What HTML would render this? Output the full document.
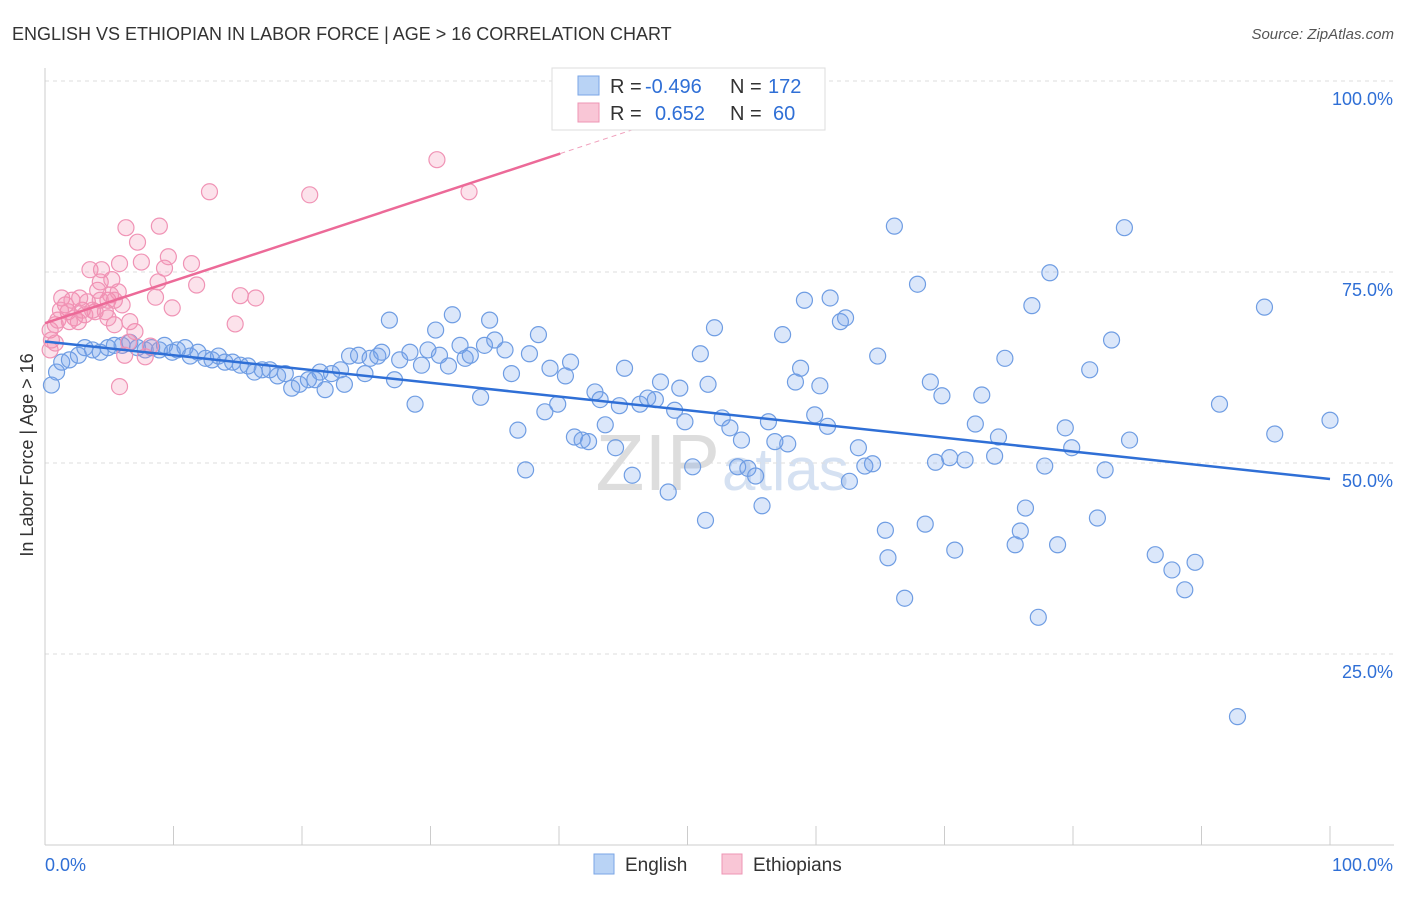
<!DOCTYPE html>
<html><head><meta charset="utf-8"><style>
body{margin:0;background:#fff;font-family:"Liberation Sans",sans-serif;}
svg text{font-family:"Liberation Sans",sans-serif;}
</style></head><body>
<svg id="chart" width="1406" height="892" xmlns="http://www.w3.org/2000/svg">
<text x="12" y="40" font-size="18" fill="#333">ENGLISH VS ETHIOPIAN IN LABOR FORCE | AGE &gt; 16 CORRELATION CHART</text>
<text x="1394" y="39" font-size="15" fill="#555" font-style="italic" text-anchor="end">Source: ZipAtlas.com</text>
<text x="33" y="455" font-size="18" fill="#333" text-anchor="middle" transform="rotate(-90 33 455)">In Labor Force | Age &gt; 16</text>
<text x="720" y="490" font-size="80" fill="#ddd" text-anchor="end" font-family="Liberation Serif">ZIP</text>
<text x="722" y="490" font-size="60" fill="#d5e1f2">atlas</text>
<g id="grid"></g><g id="axes"></g><g id="pts"></g><g id="lines"></g>
<g>
<rect x="552" y="68" width="273" height="62" fill="#fff" stroke="#ddd"/>
<rect x="578" y="76" width="21" height="19" fill="#b9d3f5" stroke="#7aa6e6"/>
<rect x="578" y="103" width="21" height="19" fill="#f9c6d6" stroke="#ee95b4"/>
<text x="610" y="93" font-size="20" fill="#333">R = </text><text x="645" y="93" font-size="20" fill="#2f6fd6">-0.496</text>
<text x="730" y="93" font-size="20" fill="#333">N = </text><text x="768" y="93" font-size="20" fill="#2f6fd6">172</text>
<text x="610" y="120" font-size="20" fill="#333">R = </text><text x="655" y="120" font-size="20" fill="#2f6fd6">0.652</text>
<text x="730" y="120" font-size="20" fill="#333">N = </text><text x="773" y="120" font-size="20" fill="#2f6fd6">60</text>
</g>
<g>
<rect x="594" y="854" width="20" height="20" fill="#b9d3f5" stroke="#7aa6e6"/>
<text x="625" y="871" font-size="19" fill="#333">English</text>
<rect x="722" y="854" width="20" height="20" fill="#f9c6d6" stroke="#ee95b4"/>
<text x="753" y="871" font-size="19" fill="#333">Ethiopians</text>
</g>
</svg>
<script>
const yTicks=[25,50,75,100];
const yTickLabels=["25.0%","50.0%","75.0%","100.0%"];
const englishX=[0.5,0.9,1.3,1.9,2.6,3.1,3.7,4.3,4.9,5.4,6.0,6.6,7.2,7.8,8.3,8.9,9.3,9.9,10.3,10.9,11.3,11.9,12.5,13.0,13.5,14.0,14.6,15.2,15.8,16.3,16.9,17.5,18.1,18.7,19.2,19.8,20.5,21.0,21.8,21.4,22.3,23.0,23.3,23.7,24.4,24.9,25.3,25.9,26.2,26.8,27.2,27.6,28.4,28.8,29.3,29.8,30.4,30.7,31.4,31.7,32.3,32.7,33.1,33.9,34.2,34.6,35.0,35.8,36.3,36.8,37.4,37.7,38.4,38.9,39.3,39.9,40.5,40.9,41.2,41.8,42.3,42.8,43.2,43.6,44.4,44.7,45.1,45.7,46.3,46.9,47.5,47.9,48.5,49.0,49.4,49.8,50.4,51.0,51.4,51.6,52.1,52.7,53.3,53.9,54.2,54.7,55.3,55.8,56.3,56.8,57.4,57.8,58.4,58.8,59.1,59.9,60.3,60.9,61.1,61.9,62.3,62.6,63.3,63.8,64.4,64.8,65.4,65.6,66.1,66.9,67.9,68.5,68.9,69.3,69.8,70.4,70.8,71.6,72.4,72.9,73.9,74.2,74.7,75.5,75.9,76.3,76.8,77.3,77.8,78.2,78.8,79.4,79.9,81.3,81.9,82.5,83.0,84.0,84.4,86.4,87.7,88.7,89.5,91.4,92.8,94.9,95.7,100.0];
const englishY=[60.2,61.9,63.2,63.5,64.1,65.1,64.8,64.5,65.1,65.4,65.4,65.8,65.1,64.8,65.1,64.8,65.4,64.5,64.8,65.1,64.0,64.5,63.7,63.5,64.0,63.2,63.2,62.8,62.7,61.9,62.2,62.2,61.4,61.7,59.8,60.3,60.9,60.9,59.6,61.9,61.7,62.2,60.3,64.0,64.1,61.7,63.7,64.0,64.5,68.7,60.9,63.5,64.5,57.7,62.8,64.8,67.4,64.1,62.7,69.4,65.4,63.7,64.1,58.6,65.4,68.7,66.1,64.8,61.7,54.3,49.1,64.3,66.8,56.7,62.4,57.7,61.4,63.2,53.4,53.0,52.8,59.3,58.3,55.0,52.0,57.5,62.4,48.4,57.7,58.5,58.3,60.6,46.2,56.9,59.8,55.4,49.5,64.3,42.5,60.3,67.7,55.9,54.6,49.5,53.0,49.3,48.3,44.4,55.4,52.8,66.8,52.5,60.6,62.4,71.3,56.3,60.1,54.8,71.6,68.5,69.0,47.6,52.0,49.6,49.9,64.0,41.2,37.6,81.0,32.3,73.4,42.0,60.6,50.1,58.8,50.7,38.6,50.4,55.1,58.9,50.9,53.4,63.7,39.3,41.1,44.1,70.6,29.8,49.6,74.9,39.3,54.6,52.0,62.2,42.8,49.1,66.1,80.8,53.0,38.0,36.0,33.4,37.0,57.7,16.8,70.4,53.8,55.6];
const ethX=[0.4,0.5,0.8,1.0,1.3,1.6,1.8,2.1,2.3,2.6,2.9,3.1,3.3,3.5,3.9,4.1,4.3,4.4,4.7,4.9,5.1,5.2,5.4,5.7,5.8,6.0,6.2,6.3,6.5,7.0,7.2,7.5,7.8,8.2,8.6,8.8,8.9,9.3,9.6,9.9,11.4,11.8,12.8,14.8,15.2,16.4,20.6,30.5,33.0,5.8,0.4,0.8,1.2,1.9,2.7,3.7,4.3,4.9,5.4,6.6];
const ethY=[67.4,66.1,68.1,68.7,71.6,70.7,69.8,71.3,69.0,68.5,70.0,69.4,71.1,75.3,69.8,72.6,73.7,75.3,69.8,71.3,72.0,74.0,68.1,72.4,76.1,70.7,64.1,80.8,65.8,67.2,78.9,76.3,63.9,65.3,71.7,73.7,81.0,75.5,77.0,70.3,76.1,73.3,85.5,68.2,71.9,71.6,85.1,89.7,85.5,60.0,64.8,65.7,70.0,68.5,71.6,70.0,71.3,69.0,71.3,68.5];
const englishTrend=[65.9,47.9];
const ethTrend=[68.3,90.5];
const NS="http://www.w3.org/2000/svg";
const X=v=>45+v*12.85, Y=v=>845-v*7.64;
function mk(tag,attrs,parent){const e=document.createElementNS(NS,tag);for(const k in attrs)e.setAttribute(k,attrs[k]);document.getElementById(parent).appendChild(e);return e;}
yTicks.forEach((t,i)=>{
 const g=mk('line',{x1:45,x2:1394,y1:Y(t),y2:Y(t),stroke:'#ddd','stroke-dasharray':'4,4'},'grid');
 
 
 const l=mk('text',{x:1393,y:Y(t)+24,'font-size':18,fill:'#2f6fd6','text-anchor':'end'},'axes');
 l.textContent=yTickLabels[i];
 
 
});
let a=mk('line',{x1:45,x2:45,y1:68,y2:845,stroke:'#ccc'},'axes');


a=mk('line',{x1:45,x2:1394,y1:845,y2:845,stroke:'#ccc'},'axes');


for(let i=0;i<=10;i++){const t=mk('line',{x1:X(i*10),x2:X(i*10),y1:826,y2:845,stroke:'#ccc'},'axes');
 
 }
let t1=mk('text',{x:45,y:871,'font-size':18,fill:'#2f6fd6'},'axes');t1.textContent='0.0%';


t1=mk('text',{x:1393,y:871,'font-size':18,fill:'#2f6fd6','text-anchor':'end'},'axes');t1.textContent='100.0%';


englishX.forEach((v,i)=>{const c=mk('circle',{cx:X(v),cy:Y(englishY[i]),r:8,fill:'rgba(110,160,235,0.25)',stroke:'#6f9de3','stroke-width':1.2},'pts');
 
 });
ethX.forEach((v,i)=>{const c=mk('circle',{cx:X(v),cy:Y(ethY[i]),r:8,fill:'rgba(245,140,175,0.25)',stroke:'#f093b5','stroke-width':1.2},'pts');
 
 });
let ln=mk('line',{x1:X(0),y1:Y(englishTrend[0]),x2:X(100),y2:Y(englishTrend[1]),stroke:'#2f6fd6','stroke-width':2.5},'lines');


const sl=(ethTrend[1]-ethTrend[0])/40.1;
ln=mk('line',{x1:X(0),y1:Y(ethTrend[0]),x2:X(40.1),y2:Y(ethTrend[1]),stroke:'#ec6a98','stroke-width':2.5},'lines');


ln=mk('line',{x1:X(40.1),y1:Y(ethTrend[1]),x2:X(50),y2:Y(ethTrend[0]+sl*50),stroke:'#f0a0bc','stroke-width':1,'stroke-dasharray':'5,4'},'lines');


</script>
</body></html>
